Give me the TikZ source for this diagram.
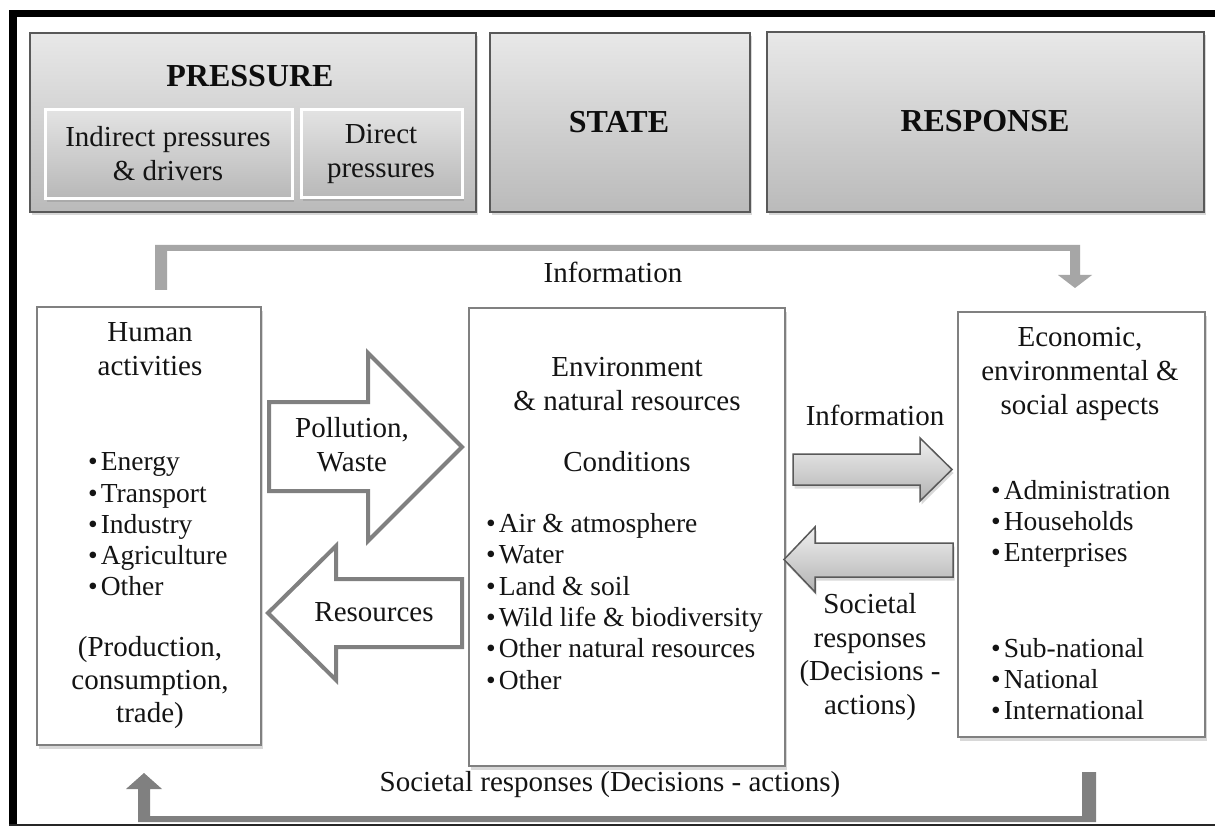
\documentclass[tikz,border=0pt]{standalone}
\usepackage{fontspec}
\setmainfont{Liberation Serif}
\usetikzlibrary{shadows}
\begin{document}
\begin{tikzpicture}[x=1pt,y=-1pt,
  softshadow/.style={drop shadow={opacity=0.3, shadow xshift=1.5pt, shadow yshift=-3.5pt}},
  hdrbox/.style={draw=black!65, line width=1.5pt, top color=black!9, bottom color=black!27,
    softshadow, anchor=north west, inner sep=0pt, outer sep=0pt},
  subbox/.style={draw=white, line width=3pt, top color=black!11, bottom color=black!28,
    softshadow, anchor=north west, inner sep=0pt, outer sep=0pt},
  mainbox/.style={draw=black!50, line width=2pt, fill=white, softshadow,
    anchor=north west, inner sep=0pt, outer sep=0pt},
  bigarrow/.style={draw=black!50, line width=4pt, fill=white, line join=miter},
  smallarrow/.style={draw=black!65, line width=1.5pt, top color=black!6, bottom color=black!30,
    softshadow, line join=miter},
  txt/.style={text=black!92, font=\fontsize{29}{34}\selectfont, align=center, inner sep=0pt},
  lst/.style={text=black!92, font=\fontsize{27.5}{31.3}\selectfont, align=left, anchor=west, inner sep=0pt},
  ttl/.style={text=black!95, font=\bfseries\fontsize{32}{36}\selectfont, inner sep=0pt}
]
\useasboundingbox (0,0) rectangle (1215,826);
\fill[white] (0,0) rectangle (1215,826);

% page frame
\fill[black] (9,10) rectangle (1215,17.5);
\fill[black] (9,10) rectangle (17,826);
\fill[black!85] (9,824) rectangle (1215,826);

% header row
\node[hdrbox, minimum width=446pt, minimum height=179pt] (press) at (30,33) {};
\node[subbox, minimum width=247pt, minimum height=89pt] (indir) at (45,110) {};
\node[subbox, minimum width=161pt, minimum height=88pt] (direct) at (301,110) {};
\node[hdrbox, minimum width=260pt, minimum height=179pt] (state) at (490,33) {};
\node[hdrbox, minimum width=437pt, minimum height=180pt] (resp) at (767,32) {};

\node[ttl] (presst) at (250,76) {PRESSURE};
\node[txt] (indirt) at (168,154) {Indirect pressures\\\& drivers};
\node[txt] (directt) at (381,154) {Direct\\pressures};
\node[ttl] (statet) at (619,122) {STATE};
\node[ttl] (respt) at (985,121) {RESPONSE};

% main boxes
\node[mainbox, minimum width=224pt, minimum height=438pt] (human) at (37,307) {};
\node[mainbox, minimum width=316pt, minimum height=458pt] (env) at (469,308) {};
\node[mainbox, minimum width=247pt, minimum height=425pt] (econ) at (958,312) {};

% human activities
\node[txt] (humant) at (150,349.5) {Human\\activities};
\node[lst] (humanl) at (88,524.5) {•\hspace{3pt}Energy\\•\hspace{3pt}Transport\\•\hspace{3pt}Industry\\•\hspace{3pt}Agriculture\\•\hspace{3pt}Other};
\node[txt, font=\fontsize{29}{33}\selectfont] (humanp) at (150,683) {(Production,\\consumption,\\trade)};

% environment
\node[txt] (envt) at (627,384.5) {Environment\\\& natural resources};
\node[txt] (condt) at (627,462) {Conditions};
\node[lst] (envl) at (486,601.5) {•\hspace{3pt}Air \& atmosphere\\•\hspace{3pt}Water\\•\hspace{3pt}Land \& soil\\•\hspace{3pt}Wild life \& biodiversity\\•\hspace{3pt}Other natural resources\\•\hspace{3pt}Other};

% economic aspects
\node[txt] (econt) at (1080,374) {Economic,\\environmental \&\\social aspects};
\node[lst] (econl) at (991,524) {•\hspace{3pt}Administration\\•\hspace{3pt}Households\\•\hspace{3pt}Enterprises};
\node[lst] (econm) at (991,679) {•\hspace{3pt}Sub-national\\•\hspace{3pt}National\\•\hspace{3pt}International};

% pressure and resource flows
\draw[bigarrow] (269,402) -- (368,402) -- (368,353) -- (462,447) -- (368,541) -- (368,491) -- (269,491) -- cycle;
\node[txt] (pollt) at (352,445) {Pollution,\\Waste};
\draw[bigarrow] (462,579) -- (336,579) -- (336,546) -- (268,613) -- (336,680) -- (336,647) -- (462,647) -- cycle;
\node[txt] (rest) at (374,612) {Resources};

% information and societal response arrows
\path[smallarrow] (793,454) -- (920,454) -- (920,438) -- (952,469.5) -- (920,501) -- (920,485) -- (793,485) -- cycle;
\node[txt] (infot) at (875,415) {Information};
\path[smallarrow] (953,543) -- (815,543) -- (815,527) -- (784,559.5) -- (815,592) -- (815,577) -- (953,577) -- cycle;
\node[txt, font=\fontsize{29}{33.5}\selectfont] (soct) at (870,657) {Societal\\responses\\(Decisions -\\actions)};

% information loop over the top
\fill[black!35] (155,290) -- (155,245) -- (1080,245) -- (1080,275) -- (1092,275) -- (1075,288)
  -- (1058,275) -- (1070,275) -- (1070,251) -- (167,251) -- (167,290) -- cycle;
\node[txt] (topinfo) at (613,272) {Information};

% societal responses loop along the bottom
\fill[black!50] (1096,772) -- (1096,822) -- (138,822) -- (138,789) -- (126,789) -- (144,773)
  -- (162,789) -- (150,789) -- (150,816) -- (1082,816) -- (1082,772) -- cycle;
\node[txt] (bottomsoc) at (610,785) {Societal responses (Decisions - actions)};
\end{tikzpicture}
\end{document}
